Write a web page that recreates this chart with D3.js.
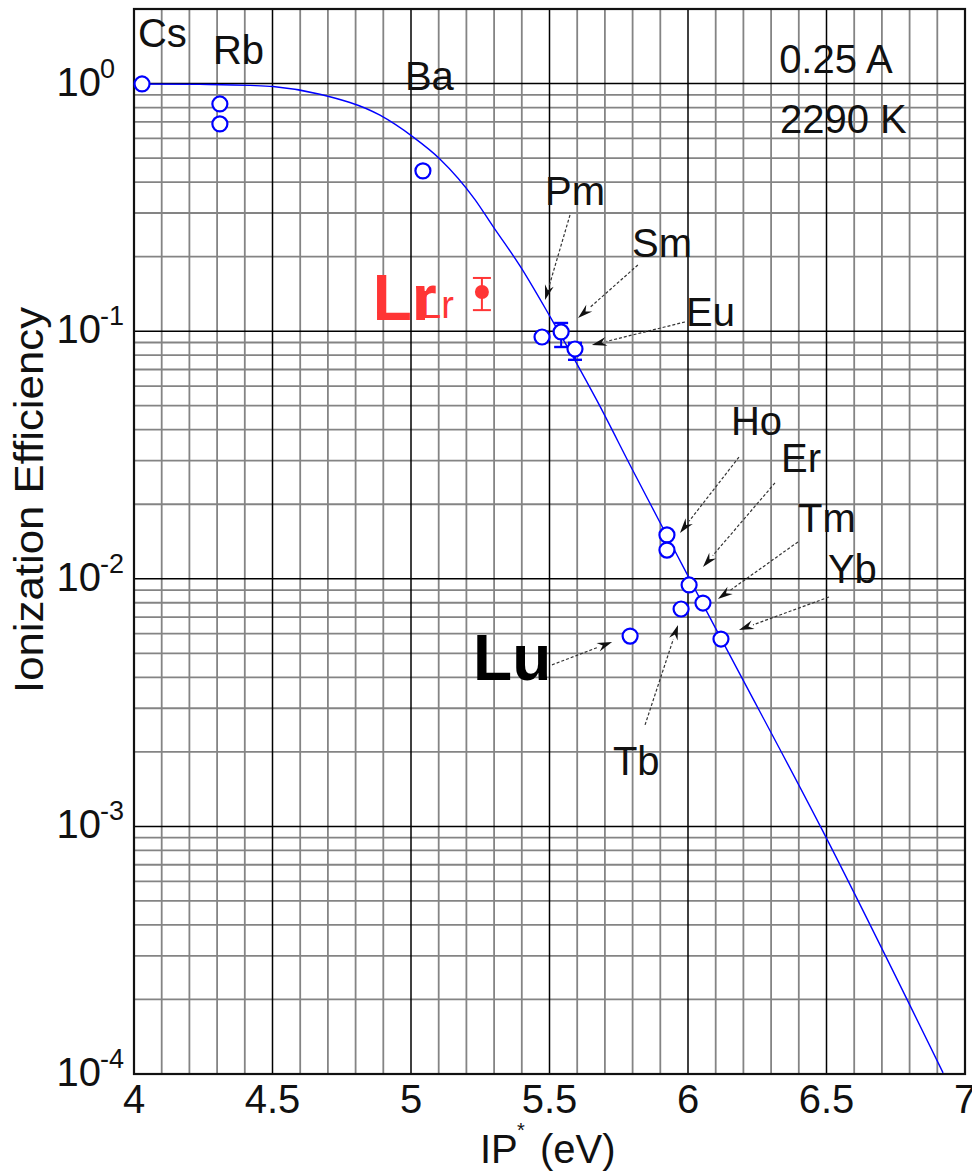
<!DOCTYPE html>
<html>
<head>
<meta charset="utf-8">
<script src="https://cdn.jsdelivr.net/npm/d3@7"></script>
<style>
  body { margin: 0; background: #fff; }
  svg { display: block; font-family: "Liberation Sans", Arial, Helvetica, sans-serif; }
</style>
</head>
<body>
<svg id="chart" width="972" height="1172"></svg>
<script>
// ---- axis ticks ----
const xTicks = [4, 4.5, 5, 5.5, 6, 6.5, 7];
const xTickLabels = ["4", "4.5", "5", "5.5", "6", "6.5", "7"];
const yTicks = [1, 0.1, 0.01, 0.001, 0.0001];
const yTickExponents = ["0", "-1", "-2", "-3", "-4"];

// ---- Saha–Langmuir efficiency curve (0.25 A, 2290 K) ----
const curveIP  = [4.00, 4.238, 4.419, 4.502, 4.671, 4.888, 5.007, 5.105, 5.231, 5.296, 5.394, 5.502, 5.671, 5.80, 5.899, 6.007, 6.141, 6.484, 6.921];
const curveEff = [0.996, 0.992, 0.983, 0.973, 0.905, 0.745, 0.609, 0.495, 0.340, 0.265, 0.183, 0.1145, 0.0525, 0.0275, 0.01688, 0.00992, 0.00516, 0.00097, 0.000101];

// ---- measured reference elements ----
const elementNames = ["Cs", "Rb", "Rb", "Ba", "Pm", "Sm", "Eu", "Ho", "Ho", "Er", "Tm", "Tb", "Yb", "Lu"];
const elementIP    = [4.029, 4.310, 4.310, 5.043, 5.473, 5.542, 5.592, 5.924, 5.924, 6.004, 6.054, 5.975, 6.119, 5.791];
const elementEff   = [0.996, 0.827, 0.687, 0.444, 0.0947, 0.0993, 0.0847, 0.01503, 0.01306, 0.00944, 0.00798, 0.00755, 0.00571, 0.00587];
const elementErrLo = [null, null, null, null, null, 0.0863, 0.0766, null, null, null, null, null, null, null];
const elementErrHi = [null, null, null, null, null, 0.1079, 0.0897, null, null, null, null, null, null, null];

// ---- lawrencium ----
const lrIP = 5.256, lrEff = 0.144, lrErrLo = 0.1216, lrErrHi = 0.164;

// ---- plain labels (no arrow) ----
const plainLabels = ["Cs", "Rb", "Ba"];
const plainLabelIP = [4.014, 4.285, 4.978];
const plainLabelEff = [1.406, 1.20, 0.942];

// ---- arrow labels ----
const arrowLabels   = ["Pm", "Sm", "Eu", "Ho", "Er", "Tm", "Yb", "Tb"];
const arrowLabelIP  = [5.484, 5.798, 5.993, 6.155, 6.336, 6.397, 6.505, 5.729];
const arrowLabelEff = [0.3234, 0.1995, 0.105, 0.0381, 0.0270, 0.01545, 0.00962, 0.001614];
const arrowFromIP   = [5.574, 5.819, 5.989, 6.184, 6.314, 6.397, 6.509, 5.845];
const arrowFromEff  = [0.2946, 0.185, 0.1089, 0.0310, 0.02438, 0.01409, 0.00844, 0.00257];
const arrowToIP     = [5.484, 5.603, 5.653, 5.971, 6.054, 6.108, 6.184, 5.964];
const arrowToEff    = [0.1337, 0.1130, 0.0879, 0.01531, 0.01116, 0.00828, 0.00621, 0.00651];

// Lu arrow and big labels
const luLabelIP = 5.224, luLabelEff = 0.0039;
const luArrowFrom = [5.509, 0.00449], luArrowTo = [5.726, 0.00556];
const lrLabelIP = 4.862, lrLabelEff = 0.111;
const lrSmallIP = 5.0325, lrSmallEff = 0.113;

// ---- condition labels ----
const condText = ["0.25 A", "2290 K"];
const condIP = [6.329, 6.332];
const condEff = [1.104, 0.632];

const plotLeft = 134, plotRight = 965, plotTop = 9, plotBottom = 1074;
const x = d3.scaleLinear().domain([4, 7]).range([plotLeft, plotRight]);
const y = d3.scaleLog().domain([1e-4, 2]).range([plotBottom, plotTop]);

const svg = d3.select("#chart");
const BLUE = "#0000ff", RED = "#ff3535";

// ---- grid ----
const grid = svg.append("g");
const vLines = d3.range(41, 70).map(i => ({ v: i / 10, major: i % 5 === 0 }));
const hLines = [];
for (let k = -4; k <= 0; k++) {
  for (let m = 1; m <= 9; m++) {
    const v = m * Math.pow(10, k);
    if (v > 1e-4 * 1.0001 && v < 2) hLines.push({ v, major: m === 1 });
  }
}
const drawV = (sel) => sel.attr("x1", d => x(d.v)).attr("x2", d => x(d.v)).attr("y1", plotTop).attr("y2", plotBottom);
const drawH = (sel) => sel.attr("y1", d => y(d.v)).attr("y2", d => y(d.v)).attr("x1", plotLeft).attr("x2", plotRight);

grid.selectAll(".vmin").data(vLines.filter(d => !d.major)).join("line").call(drawV)
  .attr("stroke", "#848484").attr("stroke-width", 1.8);
grid.selectAll(".hmin").data(hLines.filter(d => !d.major)).join("line").call(drawH)
  .attr("stroke", "#848484").attr("stroke-width", 1.8);
grid.selectAll(".vmaj").data(vLines.filter(d => d.major)).join("line").call(drawV)
  .attr("stroke", "#000").attr("stroke-width", 1.5);
grid.selectAll(".hmaj").data(hLines.filter(d => d.major)).join("line").call(drawH)
  .attr("stroke", "#000").attr("stroke-width", 1.5);

svg.append("rect").attr("x", plotLeft).attr("y", plotTop)
  .attr("width", plotRight - plotLeft).attr("height", plotBottom - plotTop)
  .attr("fill", "none").attr("stroke", "#111").attr("stroke-width", 2.2);

// ---- axes labels ----
const tickG = svg.append("g").attr("fill", "#111");
tickG.selectAll(".xt").data(xTicks).join("text")
  .attr("x", d => x(d)).attr("y", 1113).attr("text-anchor", "middle")
  .attr("font-size", 40).text((d, i) => xTickLabels[i]);

yTicks.forEach((t, i) => {
  tickG.append("text").attr("x", 101).attr("y", y(t) + 12).attr("text-anchor", "end")
    .attr("font-size", 40).text("10");
  tickG.append("text").attr("x", 100).attr("y", y(t) - 6).attr("text-anchor", "start")
    .attr("font-size", 27).text(yTickExponents[i]);
});

// x title: IP* (eV)
const xt = svg.append("g").attr("fill", "#111");
xt.append("text").attr("x", 480).attr("y", 1163).attr("font-size", 40).text("IP");
xt.append("text").attr("x", 517).attr("y", 1137).attr("font-size", 20).text("*");
xt.append("text").attr("x", 540).attr("y", 1163).attr("font-size", 40).text("(eV)");

// y title
svg.append("text").attr("transform", "translate(43,500) rotate(-90)")
  .attr("text-anchor", "middle").attr("font-size", 40).attr("fill", "#111")
  .attr("textLength", 386).attr("lengthAdjust", "spacingAndGlyphs")
  .text("Ionization Efficiency");

// ---- curve ----
const curveData = curveIP.map((v, i) => [v, curveEff[i]]);
svg.append("path").datum(curveData)
  .attr("d", d3.line().x(d => x(d[0])).y(d => y(d[1])).curve(d3.curveMonotoneX))
  .attr("fill", "none").attr("stroke", BLUE).attr("stroke-width", 1.4);

// ---- arrows ----
const arrowG = svg.append("g");
function arrow(x0, y0, x1, y1) {
  const px0 = x(x0), py0 = y(y0), px1 = x(x1), py1 = y(y1);
  const ang = Math.atan2(py1 - py0, px1 - px0);
  const L = 15, hw = 4.5;
  const bx = px1 - L * Math.cos(ang), by = py1 - L * Math.sin(ang);
  arrowG.append("line").attr("x1", px0).attr("y1", py0).attr("x2", bx).attr("y2", by)
    .attr("stroke", "#333").attr("stroke-width", 1.2).attr("stroke-dasharray", "3,2");
  const nx = -Math.sin(ang), ny = Math.cos(ang);
  arrowG.append("path")
    .attr("d", `M${px1},${py1}L${bx + nx * hw},${by + ny * hw}L${px1 - 10 * Math.cos(ang)},${py1 - 10 * Math.sin(ang)}L${bx - nx * hw},${by - ny * hw}Z`)
    .attr("fill", "#111");
}
arrowLabels.forEach((_, i) => arrow(arrowFromIP[i], arrowFromEff[i], arrowToIP[i], arrowToEff[i]));
arrow(luArrowFrom[0], luArrowFrom[1], luArrowTo[0], luArrowTo[1]);

// ---- error bars ----
const errG = svg.append("g").attr("stroke", BLUE).attr("stroke-width", 2);
elementIP.forEach((v, i) => {
  if (elementErrLo[i] == null) return;
  const cx = x(v);
  errG.append("line").attr("x1", cx).attr("x2", cx).attr("y1", y(elementErrLo[i])).attr("y2", y(elementErrHi[i]));
  [elementErrLo[i], elementErrHi[i]].forEach(e =>
    errG.append("line").attr("x1", cx - 7).attr("x2", cx + 7).attr("y1", y(e)).attr("y2", y(e)).attr("stroke-width", 2.4));
});

// ---- element points ----
svg.append("g").selectAll("circle").data(elementIP).join("circle")
  .attr("cx", d => x(d)).attr("cy", (d, i) => y(elementEff[i])).attr("r", 7.5)
  .attr("fill", "#fff").attr("stroke", BLUE).attr("stroke-width", 2.2);

// ---- Lr point ----
const lrG = svg.append("g");
lrG.append("line").attr("x1", x(lrIP)).attr("x2", x(lrIP)).attr("y1", y(lrErrLo)).attr("y2", y(lrErrHi))
  .attr("stroke", RED).attr("stroke-width", 2);
[lrErrLo, lrErrHi].forEach(e => lrG.append("line")
  .attr("x1", x(lrIP) - 9).attr("x2", x(lrIP) + 9).attr("y1", y(e)).attr("y2", y(e))
  .attr("stroke", RED).attr("stroke-width", 2));
lrG.append("circle").attr("cx", x(lrIP)).attr("cy", y(lrEff)).attr("r", 7).attr("fill", RED);

// ---- text labels ----
const lab = svg.append("g").attr("fill", "#111").attr("font-size", 40);
plainLabels.forEach((t, i) => lab.append("text").attr("x", x(plainLabelIP[i])).attr("y", y(plainLabelEff[i])).text(t));
arrowLabels.forEach((t, i) => lab.append("text").attr("x", x(arrowLabelIP[i])).attr("y", y(arrowLabelEff[i])).text(t));
condText.forEach((t, i) => lab.append("text").attr("x", x(condIP[i])).attr("y", y(condEff[i])).text(t));

// regular-weight Lr label, overprinted by the bold one
svg.append("text").attr("x", x(lrSmallIP)).attr("y", y(lrSmallEff)).attr("font-size", 38)
  .attr("fill", RED).text("Lr");
svg.append("text").attr("x", x(lrLabelIP)).attr("y", y(lrLabelEff)).attr("font-size", 64)
  .attr("font-weight", "bold").attr("fill", RED).text("Lr");
svg.append("text").attr("x", x(luLabelIP)).attr("y", y(luLabelEff)).attr("font-size", 64)
  .attr("font-weight", "bold").attr("fill", "#000").text("Lu");
</script>
</body>
</html>
